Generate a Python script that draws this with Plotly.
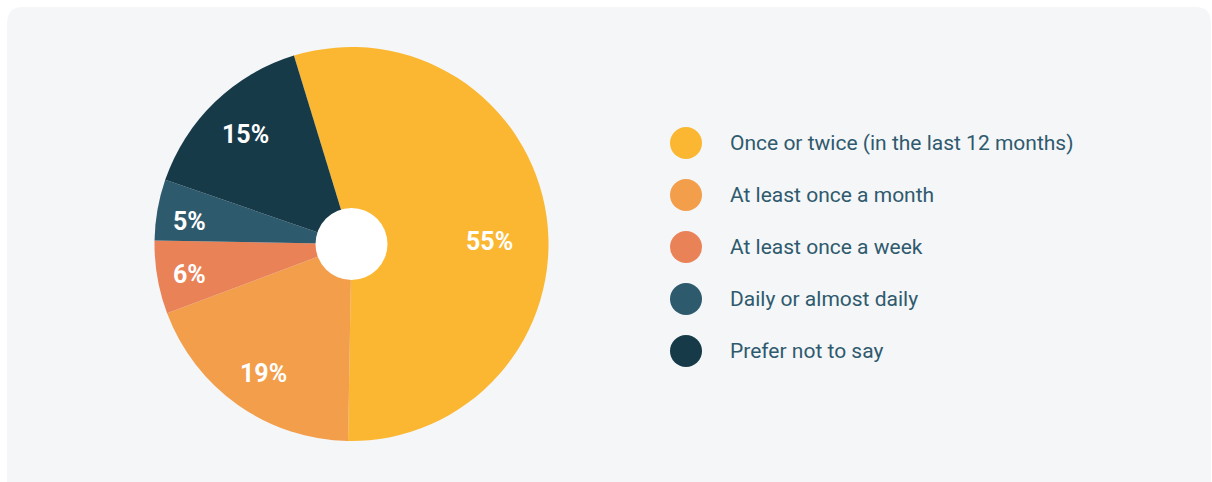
import math
import plotly.graph_objects as go

# Survey answers and their shares (percent)
categories = [
    "Once or twice (in the last 12 months)",
    "At least once a month",
    "At least once a week",
    "Daily or almost daily",
    "Prefer not to say",
]
shares = [55, 19, 6, 5, 15]
colors = ["#FBB731", "#F29E4B", "#EA8258", "#2E5A6D", "#173A49"]

W, H = 1212, 482
PANEL = "#F4F6F8"
TEXT = "#2F5A6E"

# pie geometry in pixels
cx, cy, r = 351.5, 244, 197
hole_r = 36
start_deg = -17  # first slice starts 17 degrees left of 12 o'clock

# where each percentage label sits: distance from the centre (px) and a small angular nudge
label_radius = [138, 157, 165, 164, 152]
label_nudge = [7, -1, -1, -2, 0]

fig = go.Figure()
fig.add_trace(go.Pie(
    labels=categories,
    values=shares,
    marker=dict(colors=colors, line=dict(width=0)),
    sort=False,
    direction="clockwise",
    rotation=start_deg,
    textinfo="none",
    showlegend=False,
    hoverinfo="label+percent",
    domain=dict(x=[(cx - r) / W, (cx + r) / W],
                y=[(H - cy - r) / H, (H - cy + r) / H]),
))

shapes = []
# rounded background panel
x0, y0, x1, y1, rad = 7, 7, 1211, 482 + 20, 16
path = (f"M {x0 + rad},{y0} L {x1 - rad},{y0} Q {x1},{y0} {x1},{y0 + rad} "
        f"L {x1},{y1 - rad} Q {x1},{y1} {x1 - rad},{y1} L {x0 + rad},{y1} "
        f"Q {x0},{y1} {x0},{y1 - rad} L {x0},{y0 + rad} Q {x0},{y0} {x0 + rad},{y0} Z")


def px_path(p):
    """Convert a path written in pixels into paper coordinates."""
    out = []
    for tok in p.split(" "):
        if "," in tok:
            a, b = tok.split(",")
            out.append(f"{float(a) / W:.5f},{1 - float(b) / H:.5f}")
        else:
            out.append(tok)
    return " ".join(out)


shapes.append(dict(type="path", path=px_path(path), xref="paper", yref="paper",
                   fillcolor=PANEL, line=dict(width=0), layer="below"))
# white centre of the pie
shapes.append(dict(type="circle", xref="paper", yref="paper",
                   x0=(cx - hole_r) / W, x1=(cx + hole_r) / W,
                   y0=1 - (cy + hole_r) / H, y1=1 - (cy - hole_r) / H,
                   fillcolor="white", line=dict(width=0), layer="above"))

annotations = []
# percentage labels placed along each slice's middle angle
total = sum(shares)
acc = 0
for v, lr, nudge in zip(shares, label_radius, label_nudge):
    mid = start_deg + (acc + v / 2) / total * 360 + nudge
    acc += v
    a = math.radians(mid)
    px = cx + lr * math.sin(a)
    py = cy - lr * math.cos(a)
    annotations.append(dict(text=f"{v}%", xref="paper", yref="paper",
                            x=px / W, y=1 - py / H, xanchor="center", yanchor="middle",
                            showarrow=False,
                            font=dict(family="Roboto", size=25, color="white", weight="bold")))

# legend: circle markers and labels
leg_x, leg_y0, leg_dy, dot_r = 686, 143, 52, 16
for i, (lab, col) in enumerate(zip(categories, colors)):
    yy = leg_y0 + i * leg_dy
    shapes.append(dict(type="circle", xref="paper", yref="paper",
                       x0=(leg_x - dot_r) / W, x1=(leg_x + dot_r) / W,
                       y0=1 - (yy + dot_r) / H, y1=1 - (yy - dot_r) / H,
                       fillcolor=col, line=dict(width=0)))
    annotations.append(dict(text=lab, xref="paper", yref="paper",
                            x=728 / W, y=1 - yy / H, xanchor="left", yanchor="middle",
                            showarrow=False,
                            font=dict(family="Roboto", size=21, color=TEXT)))

fig.update_layout(
    width=W, height=H,
    margin=dict(l=0, r=0, t=0, b=0),
    paper_bgcolor="white",
    plot_bgcolor="white",
    shapes=shapes,
    annotations=annotations,
)

fig.write_html("out.html")
